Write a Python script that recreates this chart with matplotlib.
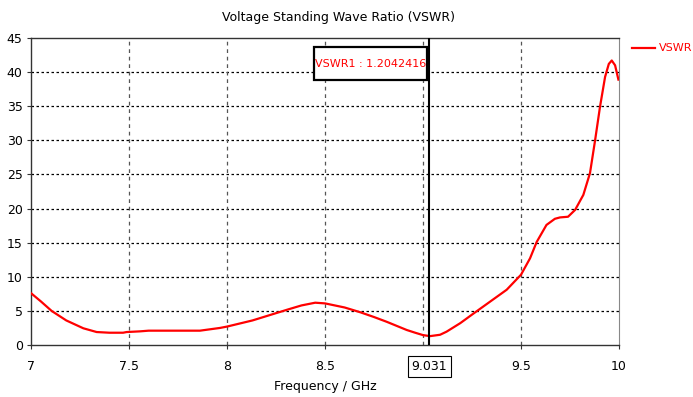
import numpy as np
import matplotlib
matplotlib.use("Agg")
import matplotlib.pyplot as plt
from matplotlib.lines import Line2D
from matplotlib.patches import Rectangle

freq = [7.0, 7.05, 7.105, 7.18, 7.267, 7.335, 7.4, 7.47, 7.488, 7.556, 7.6, 7.7, 7.862, 7.964, 8.0,
        8.13, 8.22, 8.31, 8.38, 8.45, 8.5, 8.6, 8.68, 8.75, 8.815, 8.917, 8.96, 9.0, 9.036, 9.087,
        9.12, 9.19, 9.257, 9.342, 9.427, 9.5, 9.546, 9.58, 9.63, 9.673, 9.699, 9.74, 9.776,
        9.818, 9.852, 9.878, 9.903, 9.929, 9.948, 9.963, 9.98, 9.997]
vswr = [7.6, 6.4, 5.0, 3.6, 2.45, 1.9, 1.8, 1.8, 1.9, 2.0, 2.1, 2.1, 2.1, 2.5, 2.7,
        3.6, 4.4, 5.2, 5.8, 6.2, 6.1, 5.5, 4.8, 4.1, 3.4, 2.2, 1.8, 1.45, 1.3, 1.5,
        1.95, 3.2, 4.6, 6.35, 8.1, 10.3, 12.7, 15.1, 17.6, 18.5, 18.7, 18.8, 19.8,
        22.0, 25.2, 30.0, 34.9, 39.3, 41.2, 41.7, 41.0, 38.9]

marker_x = 9.031
marker_label = "VSWR1 : 1.2042416"
xticks = [7, 7.5, 8, 8.5, 9.5, 10]
xticklabels = ["7", "7.5", "8", "8.5", "9.5", "10"]
yticks = [0, 5, 10, 15, 20, 25, 30, 35, 40, 45]

fig = plt.figure(figsize=(6.93, 3.97), dpi=100)
ax = fig.add_axes([31/693, 52/397, (619-31)/693, (345-38)/397])

ax.set_xlim(7, 10)
ax.set_ylim(0, 45)
for y in yticks[1:-1]:
    ax.axhline(y, color="black", lw=0.9, ls=(0, (2, 2)), zorder=1)
for x in [7.5, 8, 8.5, 9, 9.5]:
    ax.axvline(x, color="#555555", lw=0.9, ls=(0, (3, 3)), zorder=1)

ax.plot(freq, vswr, color="red", lw=1.6, zorder=3, solid_joinstyle="round")
ax.axvline(marker_x, color="black", lw=1.5, zorder=4)

ax.set_xticks(xticks)
ax.set_xticklabels(xticklabels)
ax.set_yticks(yticks)
ax.tick_params(axis="both", labelsize=9, length=3, color="#333333", pad=8)
ax.tick_params(axis="y", pad=3)

for side in ["left", "bottom", "top"]:
    ax.spines[side].set_color("#333333")
    ax.spines[side].set_linewidth(1.0)
ax.spines["right"].set_color("#888888")

ax.text(marker_x, -0.07, "9.031", transform=ax.get_xaxis_transform(), ha="center", va="center",
        fontsize=9,
        bbox=dict(boxstyle="square,pad=0.3", fc="white", ec="black", lw=0.8))

ax.add_patch(Rectangle((8.444, 38.84), 9.020 - 8.444, 43.68 - 38.84, fc="white", ec="black",
                       lw=1.6, zorder=5))
ax.text(8.732, 41.26, marker_label, ha="center", va="center", fontsize=8, color="red",
        zorder=6)

ax.set_xlabel("Frequency / GHz", fontsize=9, labelpad=5)
fig.text(338/693, 1 - 17/397, "Voltage Standing Wave Ratio (VSWR)", ha="center", va="center",
         fontsize=9)

fig.lines.append(Line2D([632/693, 655/693], [1-48/397, 1-48/397], color="red", lw=1.6,
                        transform=fig.transFigure))
fig.text(659/693, 1-48/397, "VSWR", color="red", fontsize=8, va="center", ha="left")

fig.savefig("out.png", dpi=100)
